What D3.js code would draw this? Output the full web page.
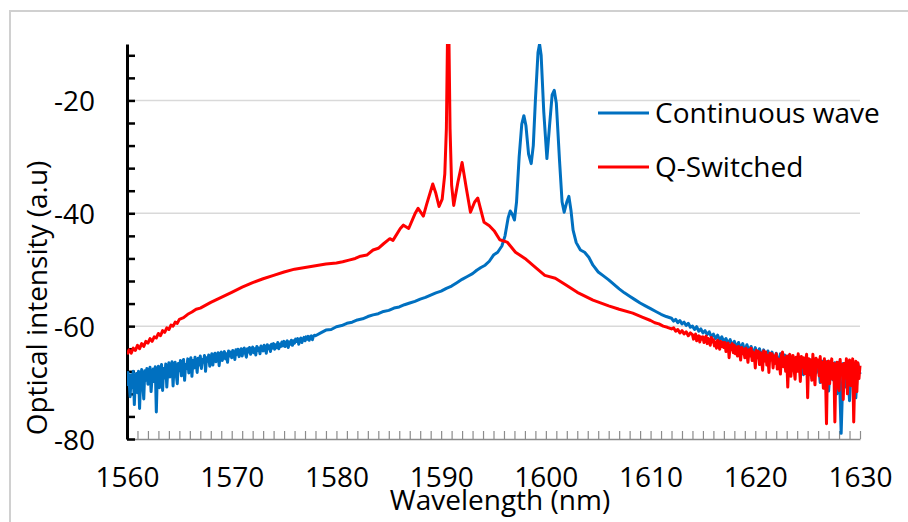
<!DOCTYPE html>
<html>
<head>
<meta charset="utf-8">
<script src="https://cdn.jsdelivr.net/npm/d3@7"></script>
<style>
  html, body { margin: 0; padding: 0; background: #fff; }
  svg { display: block; font-family: "Open Sans", sans-serif; }
</style>
</head>
<body>
<svg id="chart" width="908" height="522"></svg>
<script>
// Wavelength (nm) / optical intensity (a.u.) samples for each laser regime.
const continuousWave = [
  [1560.0,-70.6],[1560.1,-68.2],[1560.2,-69.8],[1560.3,-72.5],[1560.4,-68.6],[1560.5,-70.9],
  [1560.6,-68.0],[1560.7,-73.9],[1560.8,-69.2],[1560.9,-68.4],
  [1561.0,-71.8],[1561.1,-68.0],[1561.2,-74.6],[1561.3,-69.5],[1561.4,-67.7],[1561.5,-70.2],
  [1561.6,-72.9],[1561.7,-67.9],[1561.8,-69.6],[1561.9,-67.5],
  [1562.0,-70.3],[1562.1,-68.5],[1562.2,-67.3],[1562.3,-71.6],[1562.4,-68.9],[1562.5,-67.6],
  [1562.6,-69.8],[1562.7,-67.2],[1562.8,-75.2],[1562.9,-68.4],
  [1563.0,-67.1],[1563.1,-70.9],[1563.2,-68.0],[1563.3,-66.8],[1563.4,-71.4],[1563.5,-67.5],
  [1563.6,-69.2],[1563.7,-66.7],[1563.8,-70.8],[1563.9,-67.8],
  [1564.0,-66.5],[1564.1,-69.0],[1564.2,-67.4],[1564.3,-66.3],[1564.4,-70.6],[1564.5,-67.0],
  [1564.6,-66.4],[1564.7,-68.6],[1564.8,-70.2],[1564.9,-66.6],
  [1565.0,-67.9],[1565.1,-66.1],[1565.2,-68.8],[1565.3,-66.4],[1565.4,-65.9],[1565.5,-69.6],
  [1565.6,-66.8],[1565.7,-67.5],[1565.8,-65.8],[1565.9,-68.3],
  [1566.0,-66.3],[1566.1,-65.6],[1566.2,-68.9],[1566.3,-66.1],[1566.4,-67.4],[1566.5,-65.5],
  [1566.6,-66.6],[1566.7,-68.2],[1566.8,-65.7],[1566.9,-66.9],
  [1567.0,-65.3],[1567.1,-67.5],[1567.2,-65.9],[1567.3,-66.4],[1567.4,-65.2],[1567.5,-68.0],
  [1567.6,-65.6],[1567.7,-66.2],[1567.8,-65.1],[1567.9,-67.1],
  [1568.0,-65.8],[1568.1,-64.9],[1568.2,-66.9],[1568.3,-65.2],[1568.4,-64.8],[1568.5,-66.3],
  [1568.6,-65.5],[1568.7,-64.7],[1568.8,-67.0],[1568.9,-65.0],
  [1569.0,-64.6],[1569.1,-66.1],[1569.2,-65.0],[1569.3,-64.5],[1569.4,-65.8],[1569.5,-64.9],
  [1569.6,-66.4],[1569.7,-64.4],[1569.8,-65.3],[1569.9,-64.6],
  [1570.0,-65.6],[1570.1,-64.3],[1570.2,-64.8],[1570.3,-65.9],[1570.4,-64.2],[1570.5,-65.0],
  [1570.6,-64.1],[1570.7,-65.4],[1570.8,-64.5],[1570.9,-64.0],
  [1571.0,-65.3],[1571.1,-64.2],[1571.2,-63.9],[1571.3,-64.8],[1571.4,-65.5],[1571.5,-64.0],
  [1571.6,-64.6],[1571.7,-63.8],[1571.8,-65.0],[1571.9,-64.1],
  [1572.0,-63.7],[1572.1,-64.7],[1572.2,-64.0],[1572.3,-65.1],[1572.4,-63.6],[1572.5,-64.3],
  [1572.6,-63.9],[1572.7,-64.9],[1572.8,-63.5],[1572.9,-64.2],
  [1573.0,-64.4],[1573.1,-63.4],[1573.2,-63.8],[1573.3,-64.8],[1573.4,-63.3],[1573.5,-64.0],
  [1573.6,-63.5],[1573.7,-64.5],[1573.8,-63.2],[1573.9,-63.9],
  [1574.0,-63.1],[1574.1,-64.1],[1574.2,-63.3],[1574.3,-63.8],[1574.4,-62.9],[1574.5,-64.0],
  [1574.6,-63.2],[1574.7,-63.6],[1574.8,-62.8],[1574.9,-63.5],
  [1575.0,-62.7],[1575.1,-63.6],[1575.2,-63.0],[1575.3,-62.6],[1575.4,-63.8],[1575.5,-62.8],
  [1575.6,-63.2],[1575.7,-62.5],[1575.8,-63.4],[1575.9,-62.6],
  [1576.0,-63.0],[1576.1,-62.3],[1576.2,-62.7],[1576.3,-62.2],[1576.4,-63.2],[1576.5,-62.4],
  [1576.6,-62.1],[1576.7,-62.9],[1576.8,-62.3],[1576.9,-62.0],
  [1577.0,-62.6],[1577.1,-61.9],[1577.2,-62.3],[1577.3,-61.8],[1577.4,-62.5],[1577.5,-61.9],
  [1577.6,-61.7],[1577.7,-62.4],[1577.8,-61.8],[1577.9,-61.6],
  [1578.0,-61.7],[1578.5,-61.2],[1579.0,-60.7],[1579.5,-60.6],[1580.0,-60.1],[1580.5,-59.9],
  [1581.0,-59.5],[1581.5,-59.3],[1582.0,-58.9],[1582.5,-58.7],[1583.0,-58.3],[1583.5,-58.0],
  [1584.0,-57.8],[1584.5,-57.4],[1585.0,-57.2],[1585.5,-56.8],[1586.0,-56.6],[1586.5,-56.2],
  [1587.0,-55.9],[1587.5,-55.6],[1588.0,-55.2],[1588.5,-54.9],[1589.0,-54.5],[1589.5,-54.1],
  [1590.0,-53.8],[1590.5,-53.3],[1591.0,-52.9],[1591.5,-52.3],[1592.0,-51.7],[1592.5,-51.2],
  [1593.0,-50.7],[1593.4,-50.1],[1593.8,-49.6],[1594.2,-49.2],[1594.6,-48.5],[1595.0,-47.4],
  [1595.4,-46.9],[1595.8,-45.8],[1596.1,-44.0],[1596.4,-40.8],[1596.6,-39.6],[1596.8,-40.2],
  [1597.0,-41.2],[1597.2,-38.0],[1597.45,-30.0],[1597.7,-24.2],[1597.9,-22.7],[1598.1,-24.5],
  [1598.35,-29.5],[1598.6,-31.2],[1598.8,-28.0],[1599.0,-20.0],[1599.25,-11.5],[1599.4,-10.0],
  [1599.55,-12.0],[1599.8,-22.0],[1600.1,-30.3],[1600.35,-24.5],[1600.6,-19.0],[1600.8,-18.2],
  [1601.0,-20.5],[1601.3,-30.5],[1601.55,-38.0],[1601.75,-39.8],[1602.0,-38.0],[1602.2,-37.0],
  [1602.4,-39.5],[1602.6,-43.0],[1602.9,-45.2],[1603.3,-46.5],[1603.7,-46.9],[1604.1,-47.8],
  [1604.5,-49.2],[1605.0,-50.4],[1605.5,-51.1],[1606.0,-51.8],[1606.5,-52.6],[1607.0,-53.4],
  [1607.5,-54.1],[1608.0,-54.7],[1608.5,-55.3],[1609.0,-55.9],[1609.5,-56.4],[1610.0,-56.9],
  [1610.5,-57.4],[1611.0,-57.9],[1611.5,-58.3],[1612.0,-58.6],[1612.2,-59.1],[1612.4,-58.8],
  [1612.6,-59.4],[1612.8,-59.0],[1613.0,-59.6],[1613.2,-59.3],[1613.4,-59.9],[1613.6,-59.5],
  [1613.8,-60.2],[1614.0,-60.0],[1614.2,-60.6],[1614.4,-60.1],[1614.6,-60.9],[1614.8,-60.5],
  [1615.0,-61.2],[1615.2,-60.8],[1615.4,-61.5],[1615.6,-61.0],[1615.8,-61.9],[1616.0,-61.4],
  [1616.2,-62.2],[1616.4,-61.6],[1616.6,-62.5],[1616.8,-61.9],[1617.0,-62.8],[1617.2,-62.2],
  [1617.4,-63.1],[1617.6,-62.4],[1617.8,-63.4],[1618.0,-62.7],[1618.2,-63.8],[1618.4,-62.9],
  [1618.6,-64.0],[1618.8,-63.1],[1619.0,-64.5],[1619.2,-63.3],[1619.4,-64.4],[1619.6,-63.6],
  [1619.8,-65.0],[1620.0,-63.8],[1620.2,-65.2],[1620.4,-64.0],[1620.6,-65.5],[1620.8,-64.2],
  [1621.0,-66.1],[1621.2,-64.4],[1621.4,-65.8],[1621.6,-64.6],[1621.8,-66.4],[1622.0,-64.8],
  [1622.2,-66.9],[1622.4,-64.9],[1622.6,-66.5],[1622.8,-65.1],[1623.0,-67.6],[1623.2,-65.2],
  [1623.4,-66.8],[1623.6,-65.4],[1623.8,-68.0],[1624.0,-65.5],[1624.2,-67.3],[1624.4,-65.7],
  [1624.6,-68.6],[1624.8,-65.8],[1625.0,-67.9],[1625.2,-65.9],[1625.4,-69.2],[1625.6,-66.0],
  [1625.8,-68.3],[1626.0,-66.1],[1626.2,-70.0],[1626.4,-66.2],[1626.6,-68.8],[1626.8,-66.3],
  [1627.0,-71.5],[1627.2,-66.4],[1627.4,-69.5],[1627.6,-66.5],[1627.8,-72.0],[1628.0,-66.4],
  [1628.2,-79.0],[1628.4,-66.6],[1628.6,-70.8],[1628.8,-66.5],[1629.0,-73.2],[1629.2,-66.6],
  [1629.4,-70.2],[1629.6,-72.7],[1629.8,-66.7],[1630.0,-68.5]
];

const qSwitched = [
  [1560.0,-65.0],[1560.2,-64.2],[1560.4,-64.8],[1560.6,-63.9],[1560.8,-64.3],[1561.0,-63.4],
  [1561.2,-64.0],[1561.4,-63.1],[1561.6,-63.6],[1561.8,-62.7],[1562.0,-63.0],[1562.2,-62.2],
  [1562.4,-62.7],[1562.6,-61.9],[1562.8,-62.1],[1563.0,-61.3],[1563.2,-61.7],[1563.4,-60.8],
  [1563.6,-61.1],[1563.8,-60.3],[1564.0,-60.6],[1564.2,-59.8],[1564.4,-60.0],[1564.6,-59.3],
  [1564.8,-59.5],[1565.0,-58.8],[1565.4,-58.5],[1565.8,-57.9],[1566.2,-57.5],[1566.6,-57.0],
  [1567.0,-56.8],[1568.0,-55.8],[1569.0,-54.9],[1570.0,-54.0],[1571.0,-53.1],[1572.0,-52.3],
  [1573.0,-51.6],[1574.0,-51.0],[1575.0,-50.4],[1576.0,-49.9],[1577.0,-49.6],[1578.0,-49.3],
  [1579.0,-49.0],[1580.0,-48.8],[1580.6,-48.6],[1581.2,-48.3],[1581.8,-48.0],[1582.3,-47.6],
  [1582.9,-47.4],[1583.5,-46.5],[1584.0,-46.2],[1584.5,-45.4],[1585.1,-44.5],[1585.4,-44.8],
  [1586.1,-42.7],[1586.4,-42.1],[1586.9,-42.7],[1587.5,-40.1],[1587.8,-39.1],[1588.3,-40.5],
  [1588.6,-38.5],[1589.2,-34.8],[1589.5,-36.5],[1589.8,-38.8],[1590.1,-37.5],[1590.35,-33.0],
  [1590.5,-25.0],[1590.6,-10.0],[1590.75,-10.0],[1590.85,-25.0],[1591.0,-35.0],[1591.2,-38.6],
  [1591.6,-34.5],[1592.0,-31.0],[1592.4,-35.5],[1592.8,-39.8],[1593.2,-38.0],[1593.5,-37.3],
  [1593.8,-39.5],[1594.1,-41.6],[1594.6,-42.2],[1595.1,-43.2],[1595.6,-44.7],[1596.3,-45.1],
  [1597.1,-46.9],[1598.0,-48.0],[1599.0,-49.6],[1599.9,-51.0],[1600.9,-51.5],[1602.0,-52.8],
  [1603.0,-54.0],[1604.5,-55.4],[1606.0,-56.4],[1607.0,-57.0],[1608.3,-57.7],[1609.2,-58.4],
  [1610.0,-59.0],[1610.4,-59.4],[1610.8,-59.6],[1611.2,-60.0],[1611.6,-60.2],[1612.0,-60.5],
  [1612.2,-60.3],[1612.4,-60.9],[1612.6,-60.6],[1612.8,-61.2],[1613.0,-60.8],[1613.2,-61.4],
  [1613.4,-61.0],[1613.6,-61.7],[1613.8,-61.2],
  [1614.0,-61.5],[1614.1,-62.3],[1614.2,-61.8],[1614.3,-61.4],[1614.4,-62.6],[1614.5,-62.0],
  [1614.6,-61.7],[1614.7,-62.8],[1614.8,-61.9],[1614.9,-62.3],
  [1615.0,-61.9],[1615.1,-62.9],[1615.2,-62.4],[1615.3,-61.8],[1615.4,-63.1],[1615.5,-62.2],
  [1615.6,-62.7],[1615.7,-63.4],[1615.8,-62.0],[1615.9,-62.8],
  [1616.0,-62.4],[1616.1,-63.5],[1616.2,-62.8],[1616.3,-63.9],[1616.4,-62.5],[1616.5,-63.2],
  [1616.6,-64.1],[1616.7,-62.7],[1616.8,-63.6],[1616.9,-62.9],
  [1617.0,-63.8],[1617.1,-62.9],[1617.2,-64.5],[1617.3,-63.3],[1617.4,-63.0],[1617.5,-65.6],
  [1617.6,-63.4],[1617.7,-64.2],[1617.8,-63.1],[1617.9,-64.7],
  [1618.0,-63.4],[1618.1,-64.9],[1618.2,-63.7],[1618.3,-65.3],[1618.4,-63.6],[1618.5,-64.4],
  [1618.6,-66.0],[1618.7,-63.8],[1618.8,-64.9],[1618.9,-64.1],
  [1619.0,-65.6],[1619.1,-63.9],[1619.2,-64.8],[1619.3,-66.4],[1619.4,-64.2],[1619.5,-65.3],
  [1619.6,-63.9],[1619.7,-66.1],[1619.8,-64.6],[1619.9,-65.0],
  [1620.0,-67.4],[1620.1,-64.3],[1620.2,-65.6],[1620.3,-64.5],[1620.4,-66.8],[1620.5,-64.7],
  [1620.6,-65.9],[1620.7,-67.8],[1620.8,-64.4],[1620.9,-66.2],
  [1621.0,-64.6],[1621.1,-66.9],[1621.2,-65.2],[1621.3,-68.2],[1621.4,-64.8],[1621.5,-66.0],
  [1621.6,-64.9],[1621.7,-67.4],[1621.8,-65.3],[1621.9,-66.6],
  [1622.0,-64.9],[1622.1,-67.6],[1622.2,-65.8],[1622.3,-66.6],[1622.4,-68.5],[1622.5,-65.1],
  [1622.6,-64.6],[1622.7,-67.2],[1622.8,-65.6],[1622.9,-68.0],
  [1623.0,-65.3],[1623.1,-70.8],[1623.2,-66.0],[1623.3,-65.0],[1623.4,-68.9],[1623.5,-66.4],
  [1623.6,-65.2],[1623.7,-67.6],[1623.8,-69.4],[1623.9,-65.5],
  [1624.0,-68.0],[1624.1,-64.9],[1624.2,-66.7],[1624.3,-69.8],[1624.4,-65.4],[1624.5,-67.3],
  [1624.6,-65.6],[1624.7,-68.4],[1624.8,-66.2],[1624.9,-65.0],
  [1625.0,-72.7],[1625.1,-65.8],[1625.2,-68.6],[1625.3,-66.0],[1625.4,-69.6],[1625.5,-65.0],
  [1625.6,-67.9],[1625.7,-70.4],[1625.8,-65.7],[1625.9,-67.2],
  [1626.0,-66.0],[1626.1,-68.8],[1626.2,-65.4],[1626.3,-69.9],[1626.4,-66.4],[1626.5,-71.0],
  [1626.6,-65.8],[1626.7,-68.2],[1626.8,-77.3],[1626.9,-66.3],
  [1627.0,-66.2],[1627.1,-70.2],[1627.2,-67.0],[1627.3,-65.8],[1627.4,-69.4],[1627.5,-66.6],
  [1627.6,-77.0],[1627.7,-67.3],[1627.8,-66.4],[1627.9,-70.6],
  [1628.0,-71.4],[1628.1,-65.9],[1628.2,-68.6],[1628.3,-66.8],[1628.4,-73.0],[1628.5,-66.6],
  [1628.6,-69.2],[1628.7,-65.8],[1628.8,-72.0],[1628.9,-67.0],
  [1629.0,-66.0],[1629.1,-70.5],[1629.2,-67.4],[1629.3,-65.8],[1629.4,-77.0],[1629.5,-68.8],
  [1629.6,-66.2],[1629.7,-71.6],[1629.8,-66.5],[1629.9,-69.3],[1630.0,-67.0]
];

const seriesNames = ["Continuous wave", "Q-Switched"];
const seriesColors = ["#0070C0", "#FF0000"];
const xLabelTicks = [1560, 1570, 1580, 1590, 1600, 1610, 1620, 1630];
const yLabelTicks = [-80, -60, -40, -20];
const xTitle = "Wavelength (nm)";
const yTitle = "Optical intensity (a.u)";

const svg = d3.select("#chart");
const margin = { left: 127, right: 48, top: 44, bottom: 83 };
const W = 908, H = 522;
const x = d3.scaleLinear().domain([1560, 1630]).range([margin.left, W - margin.right]);
const y = d3.scaleLinear().domain([-80, -10]).range([H - margin.bottom, margin.top]);

// outer chart frame
svg.append("rect")
  .attr("x", 10).attr("y", 11).attr("width", 920).attr("height", 540)
  .attr("fill", "#fff").attr("stroke", "#d0d0d0").attr("stroke-width", 2);

// horizontal gridlines at the labelled values
svg.append("g").selectAll("line")
  .data(yLabelTicks.filter(v => v !== -80))
  .join("line")
  .attr("x1", x(1560)).attr("x2", x(1630))
  .attr("y1", d => y(d)).attr("y2", d => y(d))
  .attr("stroke", "#d9d9d9").attr("stroke-width", 1.5);

// x axis: grey baseline with inward ticks every nanometre
const xTicks = d3.range(1560, 1631, 1);
const xAxis = d3.axisBottom(x)
  .tickValues(xTicks)
  .tickSizeInner(-8).tickSizeOuter(0).tickPadding(28)
  .tickFormat(d => xLabelTicks.includes(d) ? String(d) : "");
const gx = svg.append("g").attr("transform", `translate(0,${y(-80)})`).call(xAxis);
gx.select(".domain").attr("stroke", "#8c8c8c").attr("stroke-width", 1.5);
gx.selectAll(".tick line").attr("stroke", "#8c8c8c").attr("stroke-width", 1.2);
gx.selectAll(".tick text").attr("font-size", 28).attr("font-family", "Open Sans").attr("fill", "#000");

// y axis: black spine with inward ticks every 4 units
const yTicks = d3.range(-80, -9, 4);
const yAxis = d3.axisLeft(y)
  .tickValues(yTicks)
  .tickSizeInner(-8).tickSizeOuter(0).tickPadding(32)
  .tickFormat(d => yLabelTicks.includes(d) ? String(d) : "");
const gy = svg.append("g").attr("transform", `translate(${x(1560)},0)`).call(yAxis);
gy.select(".domain").attr("stroke", "#000").attr("stroke-width", 3);
gy.selectAll(".tick line").attr("stroke", "#000").attr("stroke-width", 2.5);
gy.selectAll(".tick text").attr("font-size", 28).attr("font-family", "Open Sans").attr("fill", "#000")
  .attr("dy", "0.36em");

// spectra, clipped to the plotting area
svg.append("clipPath").attr("id", "plot-clip")
  .append("rect")
  .attr("x", x(1560)).attr("y", y(-10))
  .attr("width", x(1630) - x(1560) + 2).attr("height", y(-80) - y(-10));

const line = d3.line().x(d => x(d[0])).y(d => y(d[1]));
const plot = svg.append("g").attr("clip-path", "url(#plot-clip)");
[continuousWave, qSwitched].forEach((s, i) => {
  plot.append("path")
    .datum(s)
    .attr("d", line)
    .attr("fill", "none")
    .attr("stroke", seriesColors[i])
    .attr("stroke-width", 3)
    .attr("stroke-linejoin", "round");
});

// legend
const legend = svg.append("g");
seriesNames.forEach((name, i) => {
  const ly = 113 + i * 54;
  legend.append("line")
    .attr("x1", 598).attr("x2", 649).attr("y1", ly).attr("y2", ly)
    .attr("stroke", seriesColors[i]).attr("stroke-width", 3);
  legend.append("text")
    .attr("x", 655).attr("y", ly + 10)
    .attr("font-size", 28).attr("fill", "#000")
    .text(name);
});

// axis titles
svg.append("text")
  .attr("x", 500).attr("y", 510)
  .attr("text-anchor", "middle").attr("font-size", 28).attr("fill", "#000")
  .text(xTitle);
svg.append("text")
  .attr("transform", `translate(47,298) rotate(-90)`)
  .attr("text-anchor", "middle").attr("font-size", 28).attr("fill", "#000")
  .text(yTitle);
</script>
</body>
</html>
